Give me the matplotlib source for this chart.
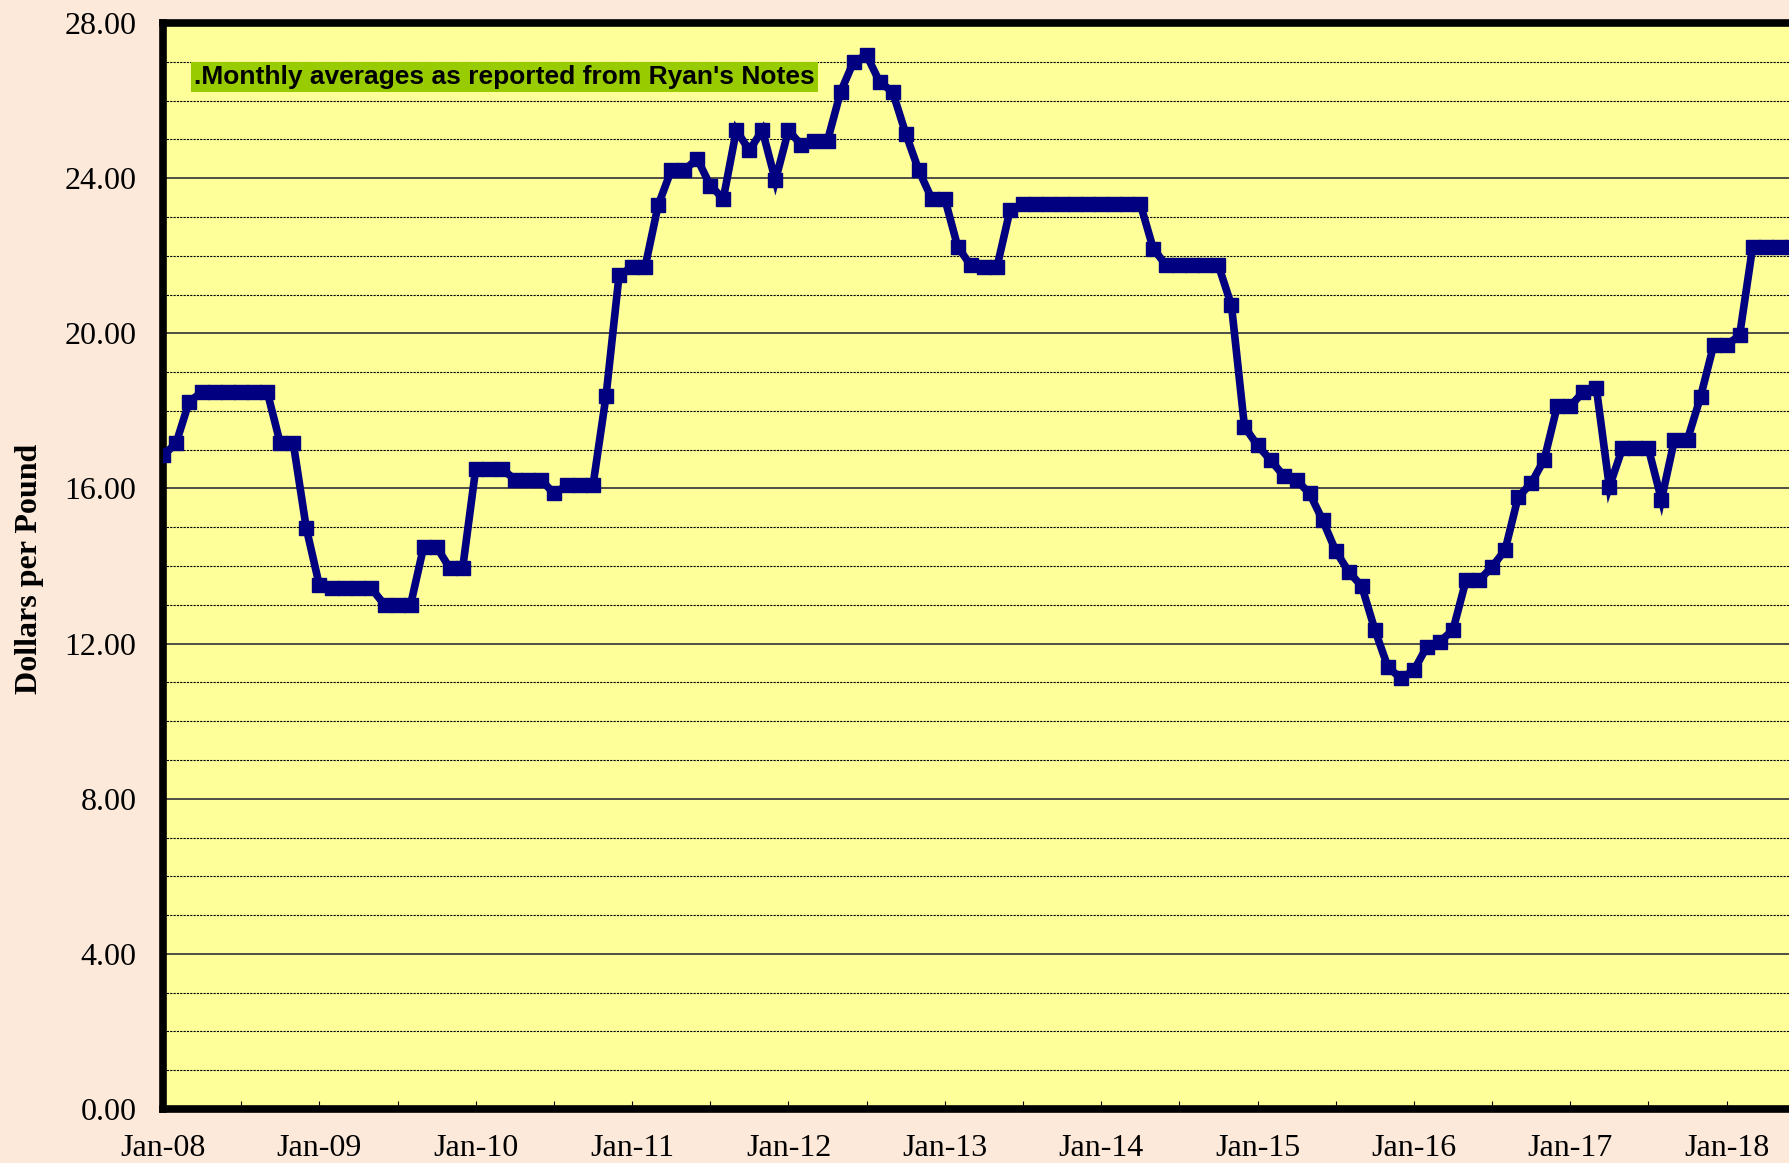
import matplotlib
matplotlib.use("Agg")
import matplotlib.pyplot as plt
import numpy as np
from matplotlib.ticker import MultipleLocator, FixedLocator

# monthly averages, Jan-08 onward (dollars per pound)
prices = [
    16.85, 17.16, 18.23, 18.49, 18.49, 18.49, 18.49, 18.49, 18.49, 17.16, 17.16, 14.97,
    13.50, 13.42, 13.42, 13.42, 13.42, 13.00, 13.00, 13.00, 14.49, 14.49, 13.95, 13.95,
    16.51, 16.51, 16.51, 16.23, 16.23, 16.23, 15.87, 16.08, 16.08, 16.08, 18.38, 21.49,
    21.71, 21.71, 23.30, 24.20, 24.20, 24.50, 23.81, 23.47, 25.23, 24.72, 25.23, 23.94,
    25.23, 24.85, 24.97, 24.97, 26.22, 27.00, 27.17, 26.48, 26.22, 25.15, 24.20, 23.47,
    23.47, 22.22, 21.75, 21.70, 21.70, 23.17, 23.34, 23.34, 23.34, 23.34, 23.34, 23.34,
    23.34, 23.34, 23.34, 23.34, 22.18, 21.75, 21.75, 21.75, 21.75, 21.75, 20.72, 17.59,
    17.11, 16.73, 16.33, 16.21, 15.87, 15.18, 14.39, 13.85, 13.48, 12.36, 11.40, 11.10,
    11.31, 11.92, 12.05, 12.35, 13.63, 13.63, 13.98, 14.41, 15.78, 16.13, 16.74, 18.12,
    18.12, 18.49, 18.60, 16.04, 17.03, 17.03, 17.03, 15.71, 17.26, 17.26, 18.36, 19.69,
    19.69, 19.95, 22.23, 22.23, 22.23, 22.23,
]
year_labels = ["Jan-08", "Jan-09", "Jan-10", "Jan-11", "Jan-12", "Jan-13",
               "Jan-14", "Jan-15", "Jan-16", "Jan-17", "Jan-18", "Jan-19"]
note = ".Monthly averages as reported from Ryan's Notes"

months = np.arange(len(prices))

W, H = 1790, 1163
fig = plt.figure(figsize=(W / 100, H / 100), dpi=100, facecolor="#FDE9D9")

# plot area runs off the right edge of the picture, as in the original
left_px, top_px, bottom_px = 163, 23, 1109
px_per_month = 13.03
xmax = 132
ax = fig.add_axes([left_px / W, 1 - bottom_px / H,
                   xmax * px_per_month / W, (bottom_px - top_px) / H])
ax.set_facecolor("#FFFF99")

ax.plot(months, prices, color="#000080", lw=5.5, marker="s", ms=10,
        solid_joinstyle="miter", zorder=3, clip_on=True)

ax.set_xlim(0, xmax)
ax.set_ylim(0, 28)

# grid: solid every 4, dotted every 1
ax.yaxis.set_major_locator(MultipleLocator(4))
ax.yaxis.set_minor_locator(MultipleLocator(1))
ax.grid(which="major", axis="y", color="#404040", lw=1.3, ls="-", zorder=1)
ax.grid(which="minor", axis="y", color="black", lw=0.8, ls=(0, (2, 1)), zorder=1)
ax.set_yticklabels([f"{v:.2f}" for v in ax.get_yticks()])
ax.tick_params(axis="y", which="both", length=0, pad=19)

ax.xaxis.set_major_locator(FixedLocator(np.arange(0, xmax, 12)))
ax.xaxis.set_minor_locator(FixedLocator(np.arange(6, xmax, 12)))
ax.set_xticklabels(year_labels[:len(ax.get_xticks())])
ax.tick_params(axis="x", which="both", direction="in", length=6, width=0.8,
               pad=18, color="black")

for lab in ax.get_xticklabels() + ax.get_yticklabels():
    lab.set_fontfamily("Liberation Serif")
    lab.set_fontsize(23)

for side in ["left", "top", "bottom"]:
    ax.spines[side].set_linewidth(5.5)
    ax.spines[side].set_color("black")
ax.spines["right"].set_visible(False)

fig.text(30 / W, 0.511, "Dollars per Pound", rotation=90, ha="center", va="center",
         fontfamily="Liberation Serif", fontweight="bold", fontsize=23)

fig.text(194 / W, 1 - 77 / H, note, ha="left", va="center",
         fontfamily="Liberation Sans", fontweight="bold", fontsize=19, zorder=5,
         bbox=dict(boxstyle="square,pad=0.12", fc="#99CC00", ec="none"))

fig.savefig("out.png", dpi=100, facecolor=fig.get_facecolor())
